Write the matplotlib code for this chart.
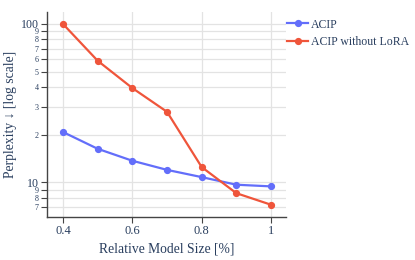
import math
import matplotlib
matplotlib.use("Agg")
import matplotlib.pyplot as plt
from matplotlib.ticker import LogLocator, FuncFormatter

plt.rcParams['font.family'] = ['Liberation Serif', 'DejaVu Serif']

sizes = [0.4, 0.5, 0.6, 0.7, 0.8, 0.9, 1.0]
acip = [20.8, 16.3, 13.7, 12.0, 10.8, 9.67, 9.44]
acip_no_lora = [100, 58.6, 39.4, 27.9, 12.5, 8.55, 7.23]
xticks = [0.4, 0.6, 0.8, 1.0]
xtick_labels = ["0.4", "0.6", "0.8", "1"]

txt = "#2a3f5f"
grid = "#e3e3e3"


def minor_label(v, pos):
    # leading digit only, like plotly's log axis
    return str(int(round(v / 10 ** math.floor(math.log10(v)))))


fig = plt.figure(figsize=(4.15, 2.6), dpi=100)
ax = fig.add_axes([0.1133, 0.1654, 0.5757, 0.7885])

ax.plot(sizes, acip, color="#636efa", lw=1.6, marker="o", ms=4.2, label="ACIP", zorder=3)
ax.plot(sizes, acip_no_lora, color="#ef553b", lw=1.6, marker="o", ms=4.2, label="ACIP without LoRA", zorder=3)

ax.set_yscale("log")
ax.set_xlim(0.354, 1.043)
ax.set_ylim(6.05, 119)

ax.yaxis.set_major_locator(LogLocator(base=10, subs=[1.0]))
ax.yaxis.set_minor_locator(LogLocator(base=10, subs=[2, 3, 4, 5, 6, 7, 8, 9]))
ax.yaxis.set_major_formatter(FuncFormatter(lambda v, p: "%d" % round(v)))
ax.yaxis.set_minor_formatter(FuncFormatter(minor_label))

ax.set_xticks(xticks)
ax.set_xticklabels(xtick_labels)

ax.grid(True, which="both", axis="y", color=grid, lw=0.9)
ax.grid(True, which="major", axis="x", color=grid, lw=0.9)
ax.set_axisbelow(True)

for s in ["top", "right"]:
    ax.spines[s].set_visible(False)
for s in ["left", "bottom"]:
    ax.spines[s].set_color("#444444")
    ax.spines[s].set_linewidth(1.0)

ax.tick_params(axis="both", which="both", colors="#444444", labelcolor=txt, direction="out", width=0.8)
ax.tick_params(axis="y", which="major", length=4, labelsize=8.6, pad=2)
ax.tick_params(axis="y", which="minor", length=4, labelsize=5.8, pad=2)
ax.tick_params(axis="x", which="major", length=4, labelsize=9, pad=2)

ax.set_xlabel("Relative Model Size [%]", color=txt, fontsize=9.8, labelpad=4)
ax.set_ylabel("Perplexity \u2193 [log scale]", color=txt, fontsize=9.8)
ax.yaxis.set_label_coords(-0.125, 0.5)

fig.legend(loc="upper left", bbox_to_anchor=(0.68, 0.947), frameon=False, fontsize=8.5,
           handlelength=1.8, handletextpad=0.2, labelspacing=0.5, labelcolor=txt, borderaxespad=0)

fig.savefig("out.png", dpi=100)
